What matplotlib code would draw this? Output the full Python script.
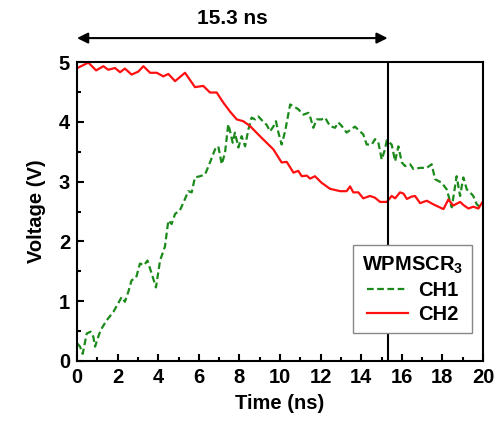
import matplotlib
matplotlib.use("Agg")
import matplotlib.pyplot as plt
from matplotlib.ticker import MultipleLocator

# CH1 (dashed green)
t_ch1 = [0.02, 0.15, 0.28, 0.48, 0.67, 0.80, 0.89, 1.00, 1.17, 1.46, 1.79, 2.12, 2.20, 2.36,
         2.53, 2.69, 2.91, 3.10, 3.30, 3.47, 3.68, 3.89, 4.09, 4.33, 4.50, 4.66, 4.83, 5.07,
         5.32, 5.48, 5.65, 5.81, 6.06, 6.31, 6.55, 6.80, 6.96, 7.13, 7.29, 7.45, 7.54, 7.67,
         7.78, 7.95, 8.11, 8.28, 8.44, 8.60, 8.77, 8.93, 9.18, 9.34, 9.51, 9.67, 9.80, 9.92,
         10.08, 10.25, 10.50, 10.66, 10.90, 11.15, 11.40, 11.48, 11.64, 11.81, 12.05, 12.22,
         12.46, 12.71, 12.87, 13.04, 13.28, 13.53, 13.69, 13.94, 14.10, 14.27, 14.52, 14.68,
         14.84, 15.01, 15.17, 15.26, 15.50, 15.67, 15.83, 16.00, 16.16, 16.41, 16.57, 16.90,
         17.23, 17.47, 17.64, 17.97, 18.21, 18.46, 18.70, 18.87, 19.03, 19.20, 19.36, 19.52,
         19.69, 19.98]
v_ch1 = [0.29, 0.24, 0.12, 0.46, 0.49, 0.41, 0.24, 0.36, 0.52, 0.68, 0.82, 1.02, 1.07, 0.99,
         1.16, 1.35, 1.39, 1.63, 1.60, 1.68, 1.46, 1.23, 1.68, 1.91, 2.35, 2.29, 2.46, 2.52,
         2.71, 2.84, 2.82, 3.07, 3.09, 3.12, 3.32, 3.54, 3.59, 3.29, 3.48, 3.96, 3.84, 3.65,
         3.82, 3.57, 3.76, 3.59, 3.87, 4.07, 4.04, 4.09, 4.00, 3.95, 3.84, 3.92, 4.01, 3.82,
         3.62, 3.84, 4.29, 4.26, 4.21, 4.12, 4.15, 4.09, 3.90, 4.04, 4.04, 4.07,
         3.93, 3.90, 3.99, 3.93, 3.82, 3.88, 3.92, 3.84, 3.79, 3.62, 3.62, 3.71,
         3.66, 3.37, 3.54, 3.69, 3.62, 3.34, 3.59, 3.32, 3.26, 3.29, 3.21, 3.23,
         3.23, 3.29, 3.04, 2.98, 2.87, 2.57, 3.09, 2.76, 3.07, 2.87, 2.82, 2.76,
         2.62, 2.54]

# CH2 (solid red)
t_ch2 = [0.02, 0.56, 0.94, 1.30, 1.54, 1.87, 2.12, 2.36, 2.69, 3.02, 3.27, 3.60, 3.93, 4.25,
         4.50, 4.83, 5.32, 5.81, 6.22, 6.55, 6.88, 7.21, 7.54, 7.87, 8.19, 8.52, 9.01, 9.34,
         9.67, 10.08, 10.33, 10.66, 10.90, 11.07, 11.32, 11.48, 11.72, 12.05, 12.46, 12.96,
         13.28, 13.45, 13.61, 13.86, 14.10, 14.43, 14.68, 14.93, 15.26, 15.50, 15.67, 15.91,
         16.08, 16.25, 16.49, 16.65, 16.90, 17.23, 17.55, 18.05, 18.29, 18.54, 18.87, 19.03,
         19.28, 19.52, 19.77, 19.98]
v_ch2 = [4.90, 4.99, 4.86, 4.93, 4.87, 4.90, 4.83, 4.89, 4.79, 4.84, 4.93, 4.82, 4.82, 4.76,
         4.80, 4.68, 4.82, 4.58, 4.60, 4.49, 4.49, 4.32, 4.17, 4.04, 4.01, 3.93, 3.76, 3.65,
         3.54, 3.32, 3.33, 3.15, 3.18, 3.09, 3.10, 3.05, 3.09, 2.98, 2.88, 2.84,
         2.84, 2.92, 2.82, 2.82, 2.72, 2.76, 2.73, 2.66, 2.66, 2.76, 2.72, 2.82,
         2.80, 2.71, 2.75, 2.76, 2.64, 2.68, 2.62, 2.54, 2.70, 2.60, 2.66, 2.61,
         2.55, 2.58, 2.55, 2.66]

t_mark = 15.3

plt.rcParams['font.family'] = ['Liberation Sans', 'DejaVu Sans']
plt.rcParams['font.weight'] = 'bold'
plt.rcParams['font.size'] = 14.5
plt.rcParams['mathtext.default'] = 'regular'

fig = plt.figure(figsize=(5.02, 4.23), dpi=100)
ax = fig.add_axes([0.1534, 0.1466, 0.8088, 0.7068])

ax.plot(t_ch1, v_ch1, color='#1b8a1b', lw=1.6, ls=(0, (3, 1.6)), label='CH1')
ax.plot(t_ch2, v_ch2, color='#ff1010', lw=1.6, label='CH2')
ax.axvline(t_mark, color='black', lw=1.5)

ax.set_xlim(0, 20)
ax.set_ylim(0, 5)
ax.xaxis.set_major_locator(MultipleLocator(2))
ax.xaxis.set_minor_locator(MultipleLocator(1))
ax.yaxis.set_major_locator(MultipleLocator(1))
ax.yaxis.set_minor_locator(MultipleLocator(0.5))
ax.tick_params(which='both', direction='in', width=1.5)
ax.tick_params(which='major', length=5, pad=5)
ax.tick_params(which='minor', length=3)
for s in ax.spines.values():
    s.set_linewidth(1.5)

ax.set_xlabel('Time (ns)', fontweight='bold', labelpad=5)
ax.set_ylabel('Voltage (V)', fontweight='bold', labelpad=9)

# double arrow above the plot
trans = ax.get_xaxis_transform()
ax.annotate('', xy=(0, 1.08), xytext=(t_mark, 1.08), xycoords=trans, textcoords=trans,
            arrowprops=dict(arrowstyle='<|-|>', color='black', lw=1.5,
                            mutation_scale=16, shrinkA=0, shrinkB=0),
            annotation_clip=False)
ax.text(t_mark / 2, 1.147, '15.3 ns', transform=trans, ha='center', va='center',
        fontweight='bold', fontsize=15)

leg = ax.legend(title='WPMSCR$_{3}$', loc='lower left', bbox_to_anchor=(0.68, 0.094),
                borderaxespad=0, fancybox=False, edgecolor='#888888', framealpha=1,
                handlelength=2.0, handletextpad=0.5, borderpad=0.45, labelspacing=0.25)
leg.get_title().set_fontweight('bold')
leg.get_title().set_fontsize(14.5)
leg.get_frame().set_linewidth(1.0)

fig.savefig('out.png', dpi=100)
